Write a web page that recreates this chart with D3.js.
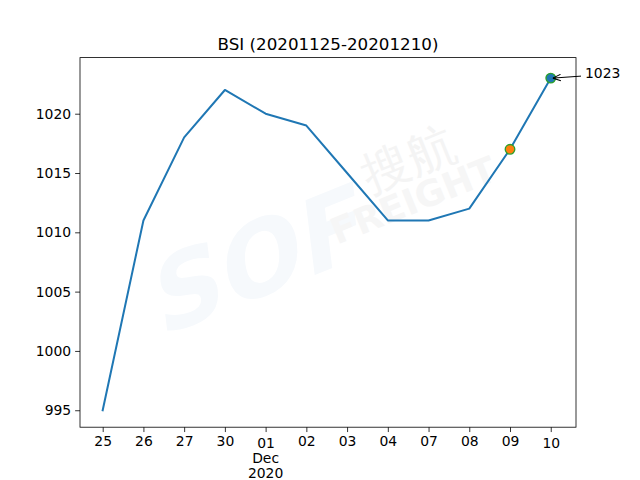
<!DOCTYPE html>
<html><head><meta charset="utf-8">
<script src="https://cdn.jsdelivr.net/npm/d3@7"></script>
<style>body{margin:0;background:#fff}svg{display:block;font-family:"DejaVu Sans",sans-serif}</style>
</head><body><svg id="c" width="640" height="480"></svg>
<script>
const categories = ["25","26","27","30","01","02","03","04","07","08","09","10"];
const values = [995,1011,1018,1022,1020,1019,1015,1011,1011,1012,1017,1023];
const yTicks = [995,1000,1005,1010,1015,1020];
const title = "BSI (20201125-20201210)";
const monthLabel = ["Dec","2020"];
const highlightIdx = [10, 11];
const annotationIdx = 11;

const svg = d3.select("#c");
const L=80,R=576,T=57.6,B=427.2;
const x = d3.scaleLinear().domain([-0.557,11.62]).range([L,R]);
const y = d3.scaleLinear().domain([993.57,1024.73]).range([B,T]);

// watermark
const wm = svg.append("g").attr("pointer-events","none");
wm.append("text").attr("transform","translate(265,295) rotate(-22) skewX(-15)")
  .attr("text-anchor","middle").attr("font-size",100).attr("font-weight","bold")
  .attr("fill","#f6f9fc").text("SOF");
wm.append("text").attr("transform","translate(415,175) rotate(-22)")
  .attr("text-anchor","middle").attr("font-size",48).attr("fill","#f4f4f4").text("搜航");
wm.append("text").attr("transform","translate(418,212) rotate(-22)")
  .attr("text-anchor","middle").attr("font-size",36).attr("font-weight","bold")
  .attr("fill","#f6f6f6").text("FREIGHT");

// line
svg.append("path").datum(values)
  .attr("d", d3.line().x((d,i)=>x(i)).y(d=>y(d)))
  .attr("fill","none").attr("stroke","#1f77b4").attr("stroke-width",2)
  .attr("stroke-linejoin","round").attr("stroke-linecap","square");

// markers
const mcol = ["#ff7f0e","#1f77b4"];
highlightIdx.forEach((idx,k)=>{
  svg.append("circle").attr("cx",x(idx)).attr("cy",y(values[idx])).attr("r",4.8)
    .attr("fill",mcol[k]).attr("stroke","#2ca02c").attr("stroke-width",1.3);
});

// annotation
const ax = x(annotationIdx), ay = y(values[annotationIdx]);
svg.append("defs").append("marker").attr("id","ah").attr("viewBox","0 0 10 10")
  .attr("refX",10).attr("refY",5).attr("markerWidth",8).attr("markerHeight",8)
  .attr("orient","auto").append("path").attr("d","M0,1 L10,5 L0,9").attr("fill","none")
  .attr("stroke","#000").attr("stroke-width",1.3);
svg.append("line").attr("x1",581).attr("y1",ay-2).attr("x2",ax+2).attr("y2",ay)
  .attr("stroke","#000").attr("stroke-width",1).attr("marker-end","url(#ah)");
svg.append("text").attr("x",585).attr("y",ay-5).attr("dy","0.35em").attr("font-size",13.9)
  .text(String(values[annotationIdx]));

// axes
const xAxis = svg.append("g").attr("transform",`translate(0,${B})`)
  .call(d3.axisBottom(x).tickValues(d3.range(categories.length)).tickFormat(i=>categories[i])
  .tickSizeOuter(0).tickSize(4.86).tickPadding(4));
xAxis.select(".domain").remove();
xAxis.selectAll("text").attr("font-size",13.9).attr("font-family","DejaVu Sans")
  .attr("dy",(i)=> (i===4||i===11)?"0.86em":"0.71em");
xAxis.selectAll("line").attr("stroke-width",0.8);
const yAxis = svg.append("g").attr("transform",`translate(${L},0)`)
  .call(d3.axisLeft(y).tickValues(yTicks).tickFormat(d3.format("d")).tickSize(4.86).tickPadding(4));
yAxis.select(".domain").remove();
yAxis.selectAll("text").attr("font-size",13.9).attr("font-family","DejaVu Sans");
yAxis.selectAll("line").attr("stroke-width",0.8);

// month/year labels
monthLabel.forEach((t,k)=>{
  svg.append("text").attr("x",x(4)).attr("y",458.5+k*14.5).attr("dy","0.35em")
    .attr("text-anchor","middle").attr("font-size",13.9).text(t);
});

// frame
svg.append("rect").attr("x",L).attr("y",T).attr("width",R-L).attr("height",B-T)
  .attr("fill","none").attr("stroke","#000").attr("stroke-width",0.8);

// title
svg.append("text").attr("x",(L+R)/2).attr("y",T-8).attr("text-anchor","middle")
  .attr("font-size",16.7).text(title);
</script></body></html>
